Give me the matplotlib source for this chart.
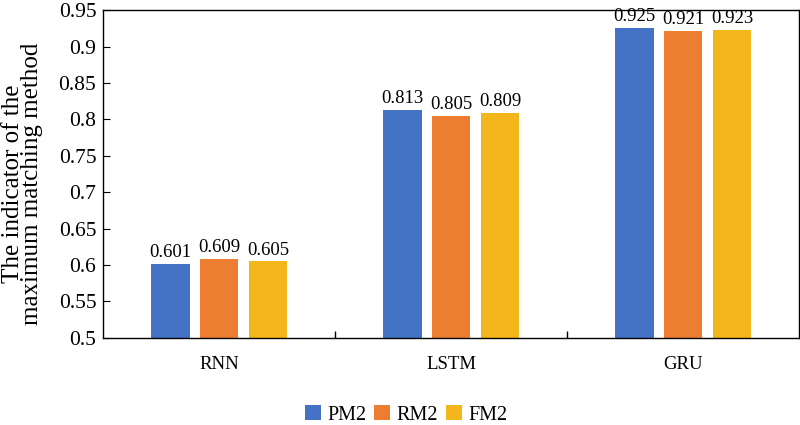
import matplotlib.pyplot as plt
import numpy as np

plt.rcParams['font.family'] = ['Liberation Serif', 'DejaVu Serif']

# Data
models = ['RNN', 'LSTM', 'GRU']
series_names = ['PM2', 'RM2', 'FM2']
pm2 = [0.601, 0.813, 0.925]
rm2 = [0.609, 0.805, 0.921]
fm2 = [0.605, 0.809, 0.923]
colors = ['#4472C4', '#ED7D31', '#F4B71B']

fig = plt.figure(figsize=(8, 4.25), dpi=100)
ax = fig.add_axes([0.129, 0.205, 0.870, 0.771])

x = np.arange(len(models))
width = 0.165
offset = 0.21

for i, (vals, name, c) in enumerate(zip([pm2, rm2, fm2], series_names, colors)):
    pos = x + (i - 1) * offset
    ax.bar(pos, vals, width, color=c, label=name)
    for px, v in zip(pos, vals):
        ax.text(px, v + 0.004, f'{v:.3f}', ha='center', va='bottom', fontsize=13.5)

ax.set_xlim(-0.5, 2.5)
ax.set_ylim(0.5, 0.95)
ax.set_yticks(np.arange(0.5, 0.951, 0.05))
ax.set_yticklabels(['0.5', '0.55', '0.6', '0.65', '0.7', '0.75', '0.8', '0.85', '0.9', '0.95'])
ax.set_xticks(x)
ax.set_xticklabels(models)
ax.set_xticks([0.5, 1.5], minor=True)
ax.tick_params(axis='x', which='major', length=0, labelsize=13.5, pad=13)
ax.tick_params(axis='x', which='minor', direction='in', length=5, width=1)
ax.tick_params(axis='y', direction='in', length=5, labelsize=15.5, pad=5)
for s in ax.spines.values():
    s.set_linewidth(1)

ax.set_ylabel('The indicator of the\nmaximum matching method', fontsize=18, linespacing=0.85)
ax.yaxis.set_label_coords(-0.086, 0.47)

ax.legend(loc='center', bbox_to_anchor=(0.435, -0.235), ncol=3, frameon=False,
          fontsize=14.5, handlelength=0.8, handleheight=0.8, handletextpad=0.3, columnspacing=0.4)

fig.savefig('out.png', dpi=100)
